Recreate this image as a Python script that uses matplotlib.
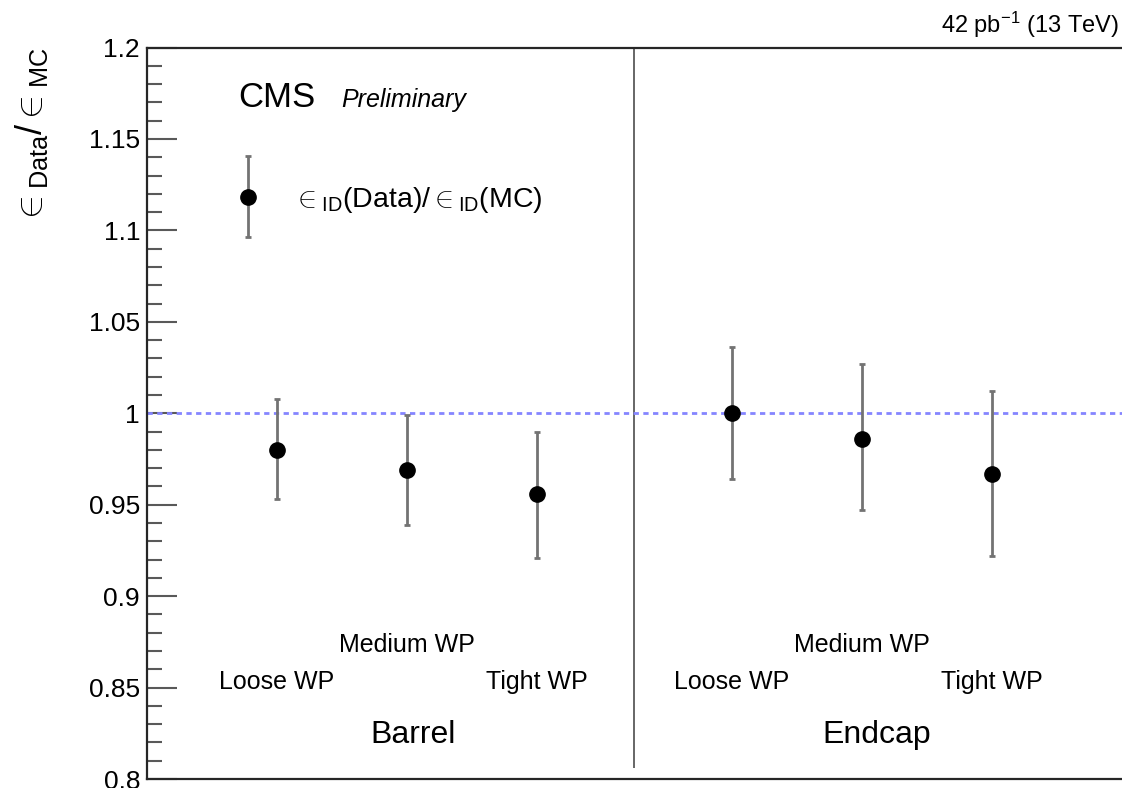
#! /usr/bin/env python3
"""Data/MC ID efficiency scale factors, barrel and endcap working points."""

import matplotlib
matplotlib.use("Agg")
from matplotlib import pyplot as plt
from matplotlib.container import ErrorbarContainer
from matplotlib.legend_handler import HandlerErrorbar

plt.rcParams['font.family'] = ['Liberation Sans', 'DejaVu Sans']
plt.rcParams['mathtext.fontset'] = 'custom'
plt.rcParams['mathtext.rm'] = 'Liberation Sans'
plt.rcParams['mathtext.it'] = 'Liberation Sans:italic'
plt.rcParams['mathtext.bf'] = 'Liberation Sans:bold'

# working points, three per detector region
wp_names = ['Loose WP', 'Medium WP', 'Tight WP', 'Loose WP', 'Medium WP', 'Tight WP']
wp_x = [0.8, 1.6, 2.4, 3.6, 4.4, 5.2]
ratio = [0.980, 0.969, 0.956, 1.000, 0.986, 0.967]
err_up = [0.028, 0.030, 0.034, 0.036, 0.041, 0.045]
err_down = [0.027, 0.030, 0.035, 0.036, 0.039, 0.045]

regions = ['Barrel', 'Endcap']
region_x = [1.64, 4.49]
region_edge = 3.0

fig = plt.figure(figsize=(11.22, 7.88), dpi=100)
ax = fig.add_axes([0.131, 0.0114, 0.869, 0.9283])

ax.set_xlim(0, 6)
ax.set_ylim(0.8, 1.2)

ax.axhline(1.0, color='#8585ff', lw=2.0, ls=(0, (1.9, 1.6)), zorder=2)
ax.vlines(region_edge, 0.806, 1.2, color='0.3', lw=1.2, zorder=1)

cont = ax.errorbar(wp_x, ratio, yerr=[err_down, err_up], fmt='o', color='black',
                   ms=11, ecolor='0.45', elinewidth=2.0, capsize=2.2, capthick=2.0,
                   zorder=3, label=r'$\in_{\mathrm{ID}}$(Data)/$\in_{\mathrm{ID}}$(MC)')

# working point labels, staggered so Medium sits a bit higher
for name, x in zip(wp_names, wp_x):
    y = 0.8694 if name.startswith('Medium') else 0.8492
    ax.text(x, y, name, ha='center', va='baseline', fontsize=18)

for name, x in zip(regions, region_x):
    ax.text(x, 0.8197, name, ha='center', va='baseline', fontsize=23)

ax.text(0.0933, 0.9187, 'CMS', transform=ax.transAxes, fontsize=25, va='baseline')
ax.text(0.1990, 0.9187, 'Preliminary', transform=ax.transAxes, fontsize=18,
        style='italic', va='baseline')

leg = ax.legend(loc='center left', bbox_to_anchor=(0.0751, 0.7915), frameon=False,
                fontsize=20.5, borderpad=0, borderaxespad=0, handlelength=1.95,
                handletextpad=0.62, handleheight=0.77,
                handler_map={ErrorbarContainer: HandlerErrorbar(yerr_size=1.43)})

ax.set_yticks([0.8, 0.85, 0.9, 0.95, 1.0, 1.05, 1.1, 1.15, 1.2])
ax.set_yticklabels(['0.8', '0.85', '0.9', '0.95', '1', '1.05', '1.1', '1.15', '1.2'])
ax.set_yticks([0.8 + 0.01 * i for i in range(41)], minor=True)
ax.tick_params(axis='y', which='major', direction='in', length=21.6, width=1.5,
               color='0.35', labelsize=19, pad=5)
ax.tick_params(axis='y', which='minor', direction='in', length=10.8, width=1.5,
               color='0.35')
ax.set_xticks([])

for side in ['left', 'top', 'bottom']:
    ax.spines[side].set_linewidth(1.6)
    ax.spines[side].set_color('0.15')
ax.spines['right'].set_visible(False)

ax.set_ylabel(r'$\in_{\mathrm{Data}}/\in_{\mathrm{MC}}$', loc='top', fontsize=26)
ax.yaxis.set_label_coords(-0.0995, 1.0)

fig.text(0.9973, 0.958, r'42 pb$^{\mathregular{-1}}$ (13 TeV)', ha='right',
         va='baseline', fontsize=17)

fig.savefig('out.png', dpi=100)
